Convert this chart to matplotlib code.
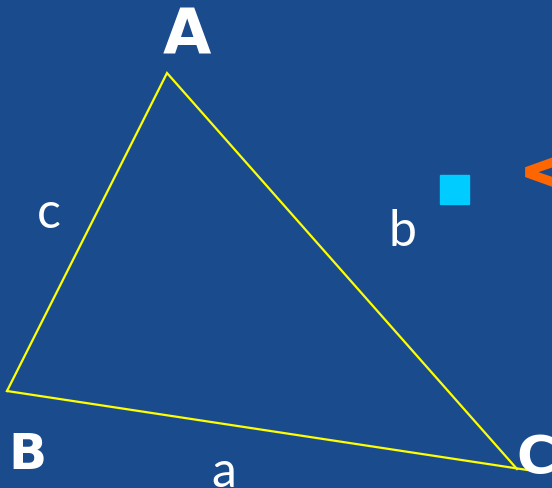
import matplotlib
matplotlib.use('Agg')
import matplotlib.pyplot as plt
from matplotlib.patches import Rectangle

# triangle vertices in pixel coordinates (A, B, C)
vert_names = ['A', 'B', 'C']
vert_x = [167, 7, 517]
vert_y = [74, 392, 470]
# the B-C side runs a bit past C
bc_end = [534, 472]

# vertex labels (centre x, baseline y)
vlab_x = [187, 27, 536]
vlab_y = [53, 469, 474]
vlab_size = [45, 36, 38]

# side labels
side_names = ['a', 'b', 'c']
side_x = [224, 403, 49]
side_y = [487, 246, 228]

bg = '#1a4b8d'

fig = plt.figure(figsize=(5.52, 4.89), dpi=100)
fig.patch.set_facecolor(bg)
ax = fig.add_axes([0, 0, 1, 1])
ax.set_facecolor(bg)
ax.set_xlim(0, 552)
ax.set_ylim(489, 0)
ax.axis('off')

# triangle sides
ax.plot([vert_x[1], vert_x[0], vert_x[2]], [vert_y[1], vert_y[0], vert_y[2]],
        color='#ffff00', linewidth=1.6, solid_joinstyle='miter')
ax.plot([vert_x[1], bc_end[0]], [vert_y[1], bc_end[1]],
        color='#ffff00', linewidth=1.6)

for n, x, y, s in zip(vert_names, vlab_x, vlab_y, vlab_size):
    ax.text(x, y, n, color='white', fontsize=s, fontweight='bold',
            family='DejaVu Sans', ha='center', va='baseline')

for n, x, y in zip(side_names, side_x, side_y):
    ax.text(x, y, n, color='white', fontsize=36, family='Lato',
            ha='center', va='baseline')

# bullet square and cut-off orange arrow
ax.add_patch(Rectangle((440, 176), 29, 29, color='#00ccff'))
ax.text(516, 175, '<', color='#ff6600', fontsize=62, fontweight='bold',
        family='DejaVu Sans', ha='left', va='center')

fig.savefig('out.png', dpi=100, facecolor=bg)
